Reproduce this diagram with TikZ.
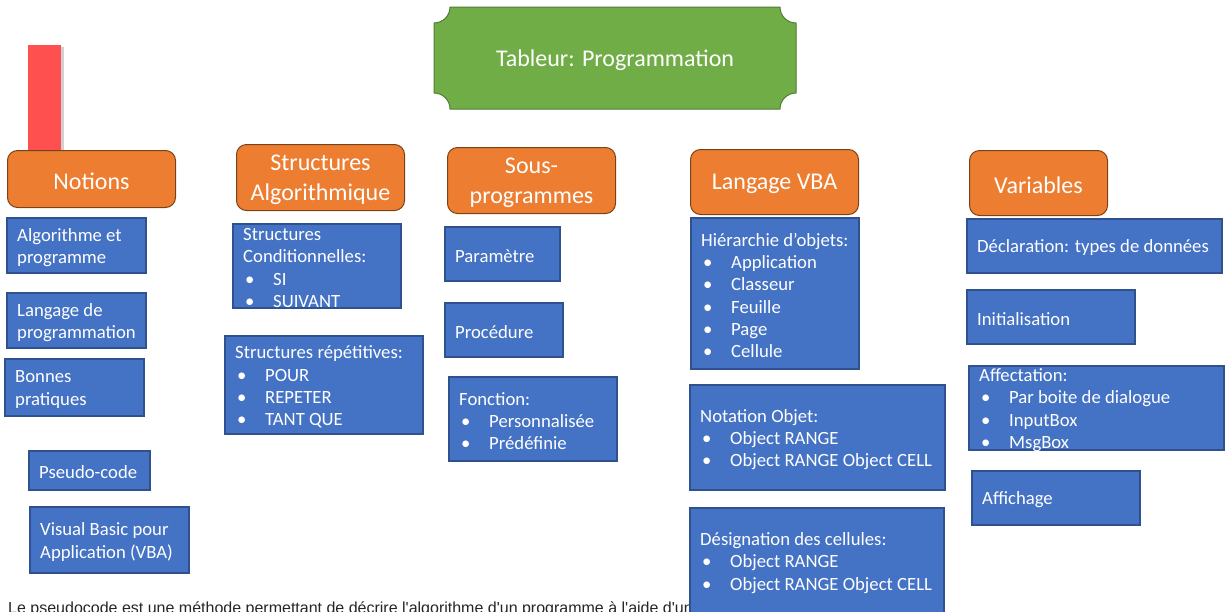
\documentclass[tikz,border=0pt]{standalone}
\usepackage{fontspec}
\setmainfont{Carlito}
\newfontfamily\notefont{Liberation Sans}
\definecolor{cardblue}{HTML}{4472C4}
\definecolor{cardedge}{HTML}{2F528F}
\definecolor{headorange}{HTML}{ED7D31}
\definecolor{headedge}{HTML}{7A4218}
\definecolor{titlegreen}{HTML}{70AD47}
\definecolor{titleedge}{HTML}{507E32}
\definecolor{barred}{HTML}{FF5050}
\definecolor{notegray}{HTML}{262626}

\tikzset{
  card/.style={draw=cardedge, fill=cardblue, line width=1.1pt, inner sep=0pt, outer sep=0pt},
  cardtext/.style={text=white, align=left, inner sep=0pt, font=\fontsize{18.7}{22.3}\selectfont},
  headbox/.style={draw=headedge, fill=headorange, line width=1pt, rounded corners=10pt,
    inner sep=0pt, anchor=north west},
  headtext/.style={text=white, align=center, inner sep=0pt, font=\fontsize{24}{30}\selectfont},
}

% blue card: name, left x, top y, width, height, text
\newcommand\bluecard[6]{%
  \node[card, minimum width=#4pt, minimum height=#5pt, anchor=north west] (#1) at (#2,#3) {};
  \node[cardtext, anchor=west] (#1-t) at ([xshift=10pt, yshift=-2pt]#1.west) {#6};
}
% orange heading: name, left x, top y, width, height, text
\newcommand\headcard[6]{%
  \node[headbox, minimum width=#4pt, minimum height=#5pt] (#1) at (#2,#3) {};
  \node[headtext] (#1-t) at ([yshift=-2pt]#1.center) {#6};
}
\newcommand\itemdot[1]{\makebox[30pt][l]{\hspace{2pt}•}#1}

\begin{document}
\begin{tikzpicture}[x=1pt, y=-1pt]
  \useasboundingbox (0,0) rectangle (1231,611);
  \fill[white] (0,0) rectangle (1231,611);
  \clip (0,0) rectangle (1231,611);

  % red marker bar with its soft shadow
  \fill[black!18] (61,47) rectangle (64,150);
  \fill[barred] (28,45) rectangle (61,150);

  % title plaque with concave corners
  \def\r{16}
  \draw[titleedge, fill=titlegreen, line width=1pt]
    (434+\r,7) -- (796-\r,7) arc[start angle=180, end angle=90, radius=\r]
    -- (796,109-\r) arc[start angle=270, end angle=180, radius=\r]
    -- (434+\r,109) arc[start angle=0, end angle=-90, radius=\r]
    -- (434,7+\r) arc[start angle=90, end angle=0, radius=\r] -- cycle;
  \node[headtext] (title) at (615,60) {Tableur: Programmation};

  % explanatory note, partly hidden behind the last card
  \node[anchor=base west, inner sep=0pt, text=notegray, font=\notefont\fontsize{16}{19}\selectfont]
    (note) at (8,613) {Le pseudocode est une méthode permettant de décrire l'algorithme d'un programme à l'aide d'un langage simplifié};

  % headings
  \headcard{notions}{7}{150}{168}{57}{Notions}
  \headcard{struct}{236}{144}{168}{66}{Structures\\Algorithmique}
  \headcard{sousprog}{447}{147}{168}{66}{Sous-\\programmes}
  \headcard{vba}{690}{149}{168}{65}{Langage VBA}
  \headcard{vars}{969}{150}{138}{65}{Variables}

  % Notions
  \bluecard{algo}{7}{218}{139}{55}{Algorithme et\\programme}
  \bluecard{lang}{7}{293}{139}{55}{Langage de\\programmation}
  \bluecard{bonnes}{5}{359}{139}{57}{Bonnes\\pratiques}
  \bluecard{pseudo}{29}{451}{121}{39}{Pseudo-code}
  \bluecard{vbacard}{30}{507}{159}{66}{Visual Basic pour\\Application (VBA)}

  % Structures algorithmiques
  \bluecard{cond}{233}{224}{168}{84}{Structures\\Conditionnelles:\\\itemdot{SI}\\\itemdot{SUIVANT}}
  \bluecard{rep}{225}{336}{198}{98}{Structures répétitives:\\\itemdot{POUR}\\\itemdot{REPETER}\\\itemdot{TANT QUE}}

  % Sous-programmes
  \bluecard{param}{445}{227}{115}{54}{Paramètre}
  \bluecard{proc}{445}{303}{118}{54}{Procédure}
  \bluecard{fonc}{449}{377}{168}{84}{Fonction:\\\itemdot{Personnalisée}\\\itemdot{Prédéfinie}}

  % Langage VBA
  \bluecard{hier}{691}{218}{168}{151}{Hiérarchie d’objets:\\\itemdot{Application}\\\itemdot{Classeur}\\\itemdot{Feuille}\\\itemdot{Page}\\\itemdot{Cellule}}
  \bluecard{notation}{690}{385}{255}{105}{Notation Objet:\\\itemdot{Object RANGE}\\\itemdot{Object RANGE Object CELL}}
  \bluecard{design}{690}{508}{254}{106}{Désignation des cellules:\\\itemdot{Object RANGE}\\\itemdot{Object RANGE Object CELL}}

  % Variables
  \bluecard{decl}{967}{219}{255}{54}{Déclaration: types de données}
  \bluecard{init}{967}{290}{168}{54}{Initialisation}
  \bluecard{affect}{969}{366}{255}{84}{Affectation:\\\itemdot{Par boite de dialogue}\\\itemdot{InputBox}\\\itemdot{MsgBox}}
  \bluecard{affich}{972}{471}{168}{54}{Affichage}
\end{tikzpicture}
\end{document}
